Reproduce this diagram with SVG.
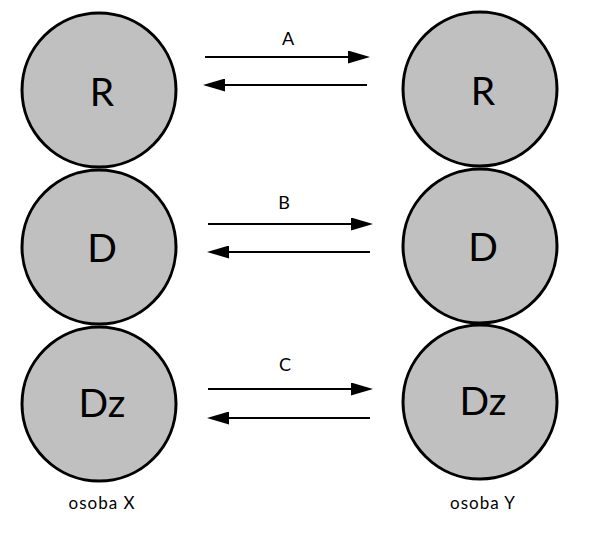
<svg xmlns="http://www.w3.org/2000/svg" width="589" height="533" viewBox="0 0 589 533">
  <style>
    .node circle { fill: #c0c0c0; stroke: #000; stroke-width: 3; }
    .big { font-family: Lato, "Liberation Sans", sans-serif; font-size: 39px; fill: #000; text-anchor: middle; }
    .lbl { font-family: Lato, "Liberation Sans", sans-serif; font-size: 18px; fill: #000; text-anchor: middle; }
    .cap { font-family: Lato, "Liberation Sans", sans-serif; font-size: 17px; fill: #000; text-anchor: middle; letter-spacing: 1px; }
    .conn line { stroke: #000; stroke-width: 2; marker-end: url(#ah); }
  </style>
  <defs>
    <marker id="ah" markerWidth="11" markerHeight="6.5" refX="0" refY="3.25" orient="auto" markerUnits="strokeWidth">
      <path d="M0,0 L11,3.25 L0,6.5 z" fill="#000"/>
    </marker>
  </defs>
  <rect width="589" height="533" fill="#fff"/>

  <g id="x-R" class="node"><circle cx="99" cy="90" r="77"/><text class="big" x="102" y="106">R</text></g>
  <g id="x-D" class="node"><circle cx="99" cy="247" r="77"/><text class="big" x="102" y="262">D</text></g>
  <g id="x-Dz" class="node"><circle cx="99" cy="404" r="77"/><text class="big" x="102" y="417">Dz</text></g>

  <g id="y-R" class="node"><circle cx="480" cy="89" r="77"/><text class="big" x="483" y="105">R</text></g>
  <g id="y-D" class="node"><circle cx="480" cy="246" r="77"/><text class="big" x="483" y="261">D</text></g>
  <g id="y-Dz" class="node"><circle cx="480" cy="402" r="77"/><text class="big" x="483" y="415">Dz</text></g>

  <g id="connectors" class="conn">
    <line x1="205" y1="57" x2="348" y2="57"/>
    <line x1="367" y1="85" x2="225" y2="85"/>
    <line x1="208" y1="224" x2="351" y2="224"/>
    <line x1="370" y1="252" x2="229" y2="252"/>
    <line x1="208" y1="389" x2="351" y2="389"/>
    <line x1="370" y1="418" x2="229" y2="418"/>
  </g>

  <g id="labels">
    <text class="lbl" x="288" y="45">A</text>
    <text class="lbl" x="284" y="209">B</text>
    <text class="lbl" x="285" y="371">C</text>
    <text class="cap" x="102" y="509">osoba X</text>
    <text class="cap" x="483" y="509">osoba Y</text>
  </g>
</svg>
